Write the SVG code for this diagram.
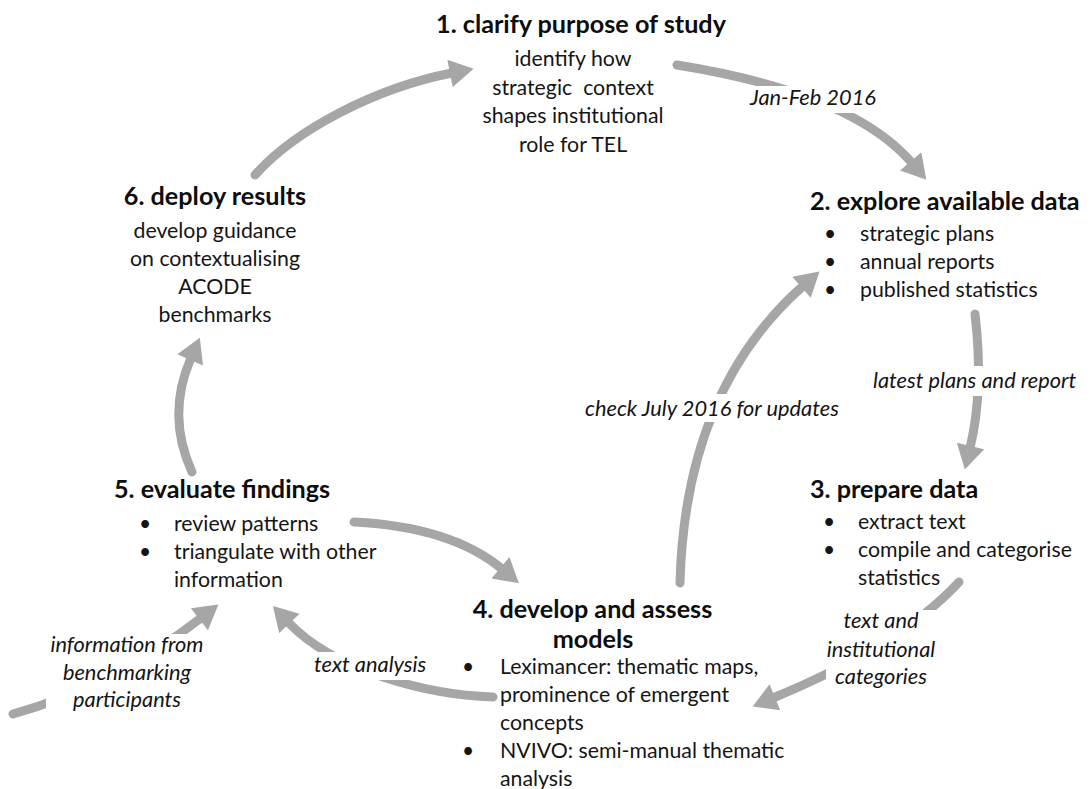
<svg xmlns="http://www.w3.org/2000/svg" width="1090" height="789" viewBox="0 0 1090 789">
<style>
text{font-family:Lato,"Liberation Sans",sans-serif;fill:#151515}
.t{font-weight:bold;font-size:25.2px;fill:#0d0d0d}
.b{font-size:21.3px}
.c{text-anchor:middle}
.i{font-style:italic;font-size:21.8px}
.bl{font-size:21px;text-anchor:middle}
.arr{fill:none;stroke:#a6a6a6;stroke-width:9;stroke-linecap:round;marker-end:url(#ah)}
.bg{fill:#fff}
</style>
<defs>
<marker id="ah" markerUnits="userSpaceOnUse" markerWidth="26" markerHeight="28" refX="2" refY="14" orient="auto" viewBox="0 0 24 28">
<path d="M0,0 L24,14 L0,28 z" fill="#a6a6a6"/>
</marker>
</defs>
<rect width="1090" height="789" fill="#fff"/>
<g id="connectors">
<path class="arr" d="M255,175 C295,130 375,88 452,73"/>
<path class="arr" d="M677,65 Q852,93 912,163"/>
<path class="arr" d="M975,314 Q984,390 970,448"/>
<path class="arr" d="M959,582 Q901,645 773,698"/>
<path class="arr" d="M680,583 Q685,390 803,286"/>
<path class="arr" d="M493,697 C430,695 335,672 288,622"/>
<path class="arr" d="M354,522 Q452,527 502,569"/>
<path class="arr" d="M192,472 Q166,415 191,358"/>
<path class="arr" d="M13,714 Q113,686 201,618"/>
<g id="lbl-jan">
<rect class="bg" x="745" y="86" width="137" height="27"/>
<text class="i c" x="813" y="105">Jan-Feb 2016</text>
</g>
<g id="lbl-latest">
<rect class="bg" x="868" y="366" width="222" height="30"/>
<text class="i" x="873" y="388">latest plans and report</text>
</g>
<g id="lbl-check">
<rect class="bg" x="580" y="394" width="265" height="28"/>
<text class="i c" x="712" y="416">check July 2016 for updates</text>
</g>
<g id="lbl-text-inst">
<rect class="bg" x="826" y="610" width="114" height="82"/>
<text class="i c" x="881" y="628">text and</text>
<text class="i c" x="881" y="657">institutional</text>
<text class="i c" x="881" y="684">categories</text>
</g>
<g id="lbl-textanalysis">
<rect class="bg" x="310" y="652" width="122" height="28"/>
<text class="i" x="314" y="672">text analysis</text>
</g>
<g id="lbl-info">
<rect class="bg" x="46" y="634" width="162" height="82"/>
<text class="i c" x="127" y="652">information from</text>
<text class="i c" x="127" y="680">benchmarking</text>
<text class="i c" x="127" y="707">participants</text>
</g>
</g>
<g id="node1">
<text class="t c" x="581" y="33">1. clarify purpose of study</text>
<text class="b c" x="573" y="66">identify how</text>
<text class="b c" x="573" y="94.5" xml:space="preserve">strategic  context</text>
<text class="b c" x="573" y="123">shapes institutional</text>
<text class="b c" x="573" y="151.5">role for TEL</text>
</g>
<g id="node2">
<text class="t" x="810" y="210">2. explore available data</text>
<text class="bl" x="830" y="241">•</text>
<text class="bl" x="830" y="269">•</text>
<text class="bl" x="830" y="297">•</text>
<text class="b" x="860" y="241">strategic plans</text>
<text class="b" x="860" y="269">annual reports</text>
<text class="b" x="860" y="297">published statistics</text>
</g>
<g id="node3">
<text class="t" x="810" y="498">3. prepare data</text>
<text class="bl" x="829" y="529">•</text>
<text class="bl" x="829" y="557">•</text>
<text class="b" x="858" y="529">extract text</text>
<text class="b" x="858" y="557">compile and categorise</text>
<text class="b" x="858" y="585">statistics</text>
</g>
<g id="node4">
<text class="t c" x="592.5" y="618">4. develop and assess</text>
<text class="t c" x="593" y="648">models</text>
<text class="bl" x="468" y="674">•</text>
<text class="bl" x="468" y="758">•</text>
<text class="b" x="500" y="674">Leximancer: thematic maps,</text>
<text class="b" x="500" y="702">prominence of emergent</text>
<text class="b" x="500" y="730">concepts</text>
<text class="b" x="500" y="758">NVIVO: semi-manual thematic</text>
<text class="b" x="500" y="786">analysis</text>
</g>
<g id="node5">
<text class="t" x="114" y="498">5. evaluate findings</text>
<text class="bl" x="145" y="531">•</text>
<text class="bl" x="145" y="559">•</text>
<text class="b" x="174" y="531">review patterns</text>
<text class="b" x="174" y="559">triangulate with other</text>
<text class="b" x="174" y="587">information</text>
</g>
<g id="node6">
<text class="t c" x="215" y="205">6. deploy results</text>
<text class="b c" x="215" y="238">develop guidance</text>
<text class="b c" x="215" y="266">on contextualising</text>
<text class="b c" x="215" y="294">ACODE</text>
<text class="b c" x="215" y="322">benchmarks</text>
</g>
</svg>
